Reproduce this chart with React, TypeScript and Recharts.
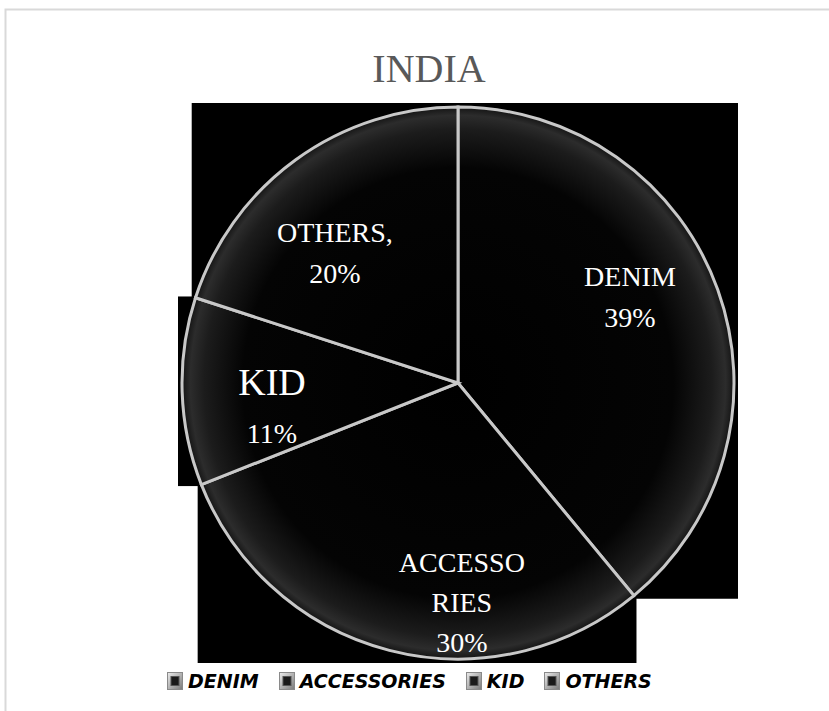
import React from "react";
import { PieChart, Pie, Sector, Legend } from "recharts";

const CATEGORIES = ["DENIM", "ACCESSORIES", "KID", "OTHERS"];
const SHARES = [39, 30, 11, 20];
// how the data labels break over lines (the percent is added below them)
const LABEL_LINES = [["DENIM"], ["ACCESSO", "RIES"], ["KID"], ["OTHERS,"]];

const data = CATEGORIES.map((name, i) => ({ name, value: SHARES[i] }));

const W = 829;
const H = 711;
const CX = 458;
const CY = 383;
const R = 276;
const RAD = Math.PI / 180;
const SERIF = '"Liberation Serif", "Times New Roman", serif';

// label block anchor, in fractions of the radius from the pie centre
const LABEL_AT = [
  { x: 0.623, y: -0.351, gap: 41, big: false },
  { x: 0.014, y: 0.685, gap: 40, big: false },
  { x: -0.674, y: 0.043, gap: 48, big: true },
  { x: -0.446, y: -0.511, gap: 41, big: false },
];

// black bounding box behind every slice (as in the exported picture)
function SliceBox(props: any) {
  const { cx, cy, outerRadius, startAngle, endAngle } = props;
  const pad = 4;
  const a0 = Math.min(startAngle, endAngle);
  const a1 = Math.max(startAngle, endAngle);
  const angles = [a0, a1];
  for (let k = Math.ceil(a0 / 90) * 90; k <= a1; k += 90) angles.push(k);
  const xs = [cx];
  const ys = [cy];
  angles.forEach((a) => {
    xs.push(cx + (outerRadius + pad) * Math.cos(a * RAD));
    ys.push(cy - (outerRadius + pad) * Math.sin(a * RAD));
  });
  const x0 = Math.min(...xs);
  const y0 = Math.min(...ys);
  return <rect x={x0} y={y0} width={Math.max(...xs) - x0} height={Math.max(...ys) - y0} fill="#000" />;
}

function Slice(props: any) {
  const { cx, cy, innerRadius, outerRadius, startAngle, endAngle } = props;
  return (
    <g>
      <defs>
        <radialGradient id="slice-shade" gradientUnits="userSpaceOnUse" cx={cx} cy={cy} r={outerRadius}>
          <stop offset="0%" stopColor="#000" />
          <stop offset="78%" stopColor="#040404" />
          <stop offset="92%" stopColor="#1c1c1c" />
          <stop offset="97%" stopColor="#2c2c2c" />
          <stop offset="100%" stopColor="#141414" />
        </radialGradient>
      </defs>
      <Sector
        cx={cx}
        cy={cy}
        innerRadius={innerRadius}
        outerRadius={outerRadius}
        startAngle={startAngle}
        endAngle={endAngle}
        fill="url(#slice-shade)"
        stroke="#c8c8c8"
        strokeWidth={3}
      />
    </g>
  );
}

function renderLabel(props: any) {
  const { index, percent } = props;
  const cx = props.cx ?? CX;
  const cy = props.cy ?? CY;
  const r = props.outerRadius ?? R;
  const spot = LABEL_AT[index];
  const lines = [...LABEL_LINES[index], `${Math.round(percent * 100)}%`];
  const x = cx + spot.x * r;
  const y0 = cy + spot.y * r;
  return (
    <text x={x} y={y0} textAnchor="middle" fill="#fff" fontFamily={SERIF} fontSize={28}>
      {lines.map((l, i) => (
        <tspan key={i} x={x} y={y0 + i * spot.gap} fontSize={spot.big && i === 0 ? 38 : 28}>
          {l}
        </tspan>
      ))}
    </text>
  );
}

function LegendRow() {
  return (
    <div style={{ display: "flex", alignItems: "center", height: 20 }}>
      {CATEGORIES.map((c) => (
        <div key={c} style={{ display: "flex", alignItems: "center", marginRight: 20, flexShrink: 0 }}>
          <svg width={16} height={18} style={{ marginRight: 5, flexShrink: 0 }}>
            <defs>
              <linearGradient id="legend-bevel" x1="0" y1="0" x2="1" y2="1">
                <stop offset="0%" stopColor="#ececec" />
                <stop offset="100%" stopColor="#7a7a7a" />
              </linearGradient>
            </defs>
            <rect x={0.5} y={0.5} width={15} height={17} fill="url(#legend-bevel)" stroke="#8a8a8a" />
            <rect x={4} y={4.5} width={8} height={9} fill="#1a1a1a" stroke="#555" />
          </svg>
          <span
            style={{
              fontFamily: '"DejaVu Sans", sans-serif',
              fontWeight: "bold",
              fontStyle: "italic",
              fontSize: 19,
              color: "#000",
            }}
          >
            {c}
          </span>
        </div>
      ))}
    </div>
  );
}

export default function App() {
  return (
    <div style={{ position: "absolute", left: 0, top: 0, width: W, height: H, background: "#fff", overflow: "hidden" }}>
      <svg width={W} height={H} style={{ position: "absolute", left: 0, top: 0 }}>
        <rect x={5.5} y={9.5} width={W + 20} height={H + 20} fill="#fff" stroke="#d9d9d9" strokeWidth={2} />
        <text x={429} y={82} textAnchor="middle" fill="#595959" fontFamily={SERIF} fontSize={40}>
          INDIA
        </text>
      </svg>
      <div style={{ position: "absolute", left: 0, top: 0 }}>
        <PieChart width={W} height={H} margin={{ top: 0, right: 0, bottom: 0, left: 0 }}>
          <Pie
            data={data}
            dataKey="value"
            nameKey="name"
            cx={CX}
            cy={CY}
            outerRadius={R}
            startAngle={90}
            endAngle={-270}
            stroke="none"
            legendType="none"
            shape={SliceBox}
            activeShape={SliceBox}
            isAnimationActive={false}
          />
          <Pie
            data={data}
            dataKey="value"
            nameKey="name"
            cx={CX}
            cy={CY}
            outerRadius={R}
            startAngle={90}
            endAngle={-270}
            shape={Slice}
            activeShape={Slice}
            label={renderLabel}
            labelLine={false}
            isAnimationActive={false}
          />
          <Legend content={() => <LegendRow />} wrapperStyle={{ left: 167, top: 671, width: 640 }} />
        </PieChart>
      </div>
    </div>
  );
}
